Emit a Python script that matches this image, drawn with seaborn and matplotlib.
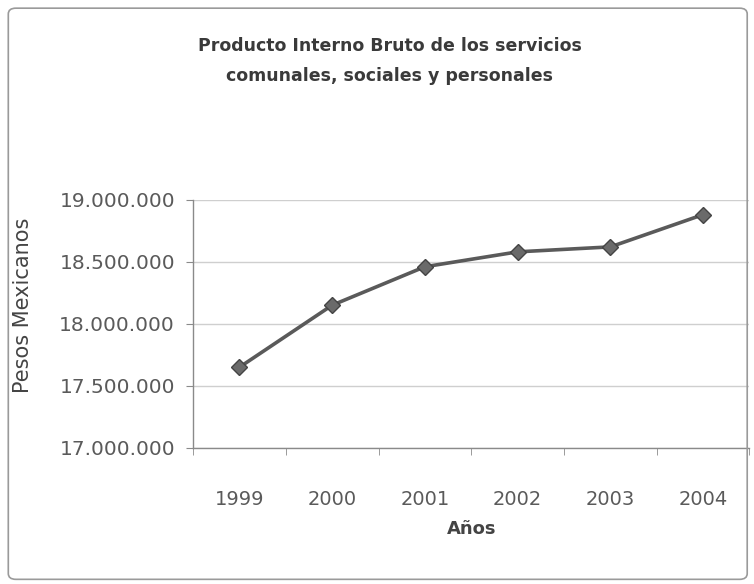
import matplotlib
matplotlib.use("Agg")
import matplotlib.pyplot as plt
from matplotlib.patches import FancyBboxPatch
from matplotlib.ticker import FuncFormatter, FixedLocator
import seaborn as sns
import pandas as pd

# Datos
anios = ["1999", "2000", "2001", "2002", "2003", "2004"]
pib = [17650000, 18150000, 18460000, 18580000, 18620000, 18880000]

titulo = "Producto Interno Bruto de los servicios\ncomunales, sociales y personales"
etiqueta_x = "Años"
etiqueta_y = "Pesos Mexicanos"

df = pd.DataFrame({"anio": anios, "pib": pib})

sns.set_style("white")
plt.rcParams["font.family"] = ["DejaVu Sans"]

fig = plt.figure(figsize=(7.54, 5.84), dpi=100)
ax = fig.add_axes([0.256, 0.233, 0.738, 0.425])

sns.lineplot(data=df, x="anio", y="pib", ax=ax, color="#5a5a5a", linewidth=2.6,
             marker="D", markersize=8, markerfacecolor="#6a6a6a",
             markeredgecolor="#444444", markeredgewidth=1.0)

ax.set_ylim(17000000, 19000000)
ax.set_yticks([17000000, 17500000, 18000000, 18500000, 19000000])
ax.yaxis.set_major_formatter(FuncFormatter(lambda v, p: f"{int(v):,}".replace(",", ".")))
ax.set_xlim(-0.5, len(anios) - 0.5)
ax.xaxis.set_minor_locator(FixedLocator([i - 0.5 for i in range(len(anios) + 1)]))

ax.grid(axis="y", color="#cfcfcf", linewidth=1.0)
ax.grid(axis="x", visible=False)
for s in ["top", "right"]:
    ax.spines[s].set_visible(False)
for s in ["left", "bottom"]:
    ax.spines[s].set_color("#8a8a8a")
    ax.spines[s].set_linewidth(1.0)

ax.tick_params(axis="y", which="major", direction="out", length=5, color="#8a8a8a",
               labelsize=14.5, labelcolor="#5a5a5a", pad=8, left=True)
ax.tick_params(axis="x", which="major", length=0, labelsize=14, labelcolor="#5a5a5a", pad=30)
ax.tick_params(axis="x", which="minor", direction="out", length=5, color="#8a8a8a", bottom=True)

ax.set_xlabel(etiqueta_x, fontsize=13, color="#444444", fontweight="bold")
ax.xaxis.set_label_coords(0.5, -0.29)
ax.set_ylabel(etiqueta_y, fontsize=15, color="#444444")
ax.yaxis.set_label_coords(-0.288, 0.575)

fig.text(0.517, 0.895, titulo, ha="center", va="center", fontsize=12.5,
         fontweight="bold", color="#3a3a3a", linespacing=1.85)

marco = FancyBboxPatch((0.011, 0.008), 0.98, 0.978, boxstyle="round,pad=0,rounding_size=0.01",
                       transform=fig.transFigure, fill=False, edgecolor="#9a9a9a", linewidth=1.2)
fig.patches.append(marco)

fig.savefig("out.png", dpi=100)
